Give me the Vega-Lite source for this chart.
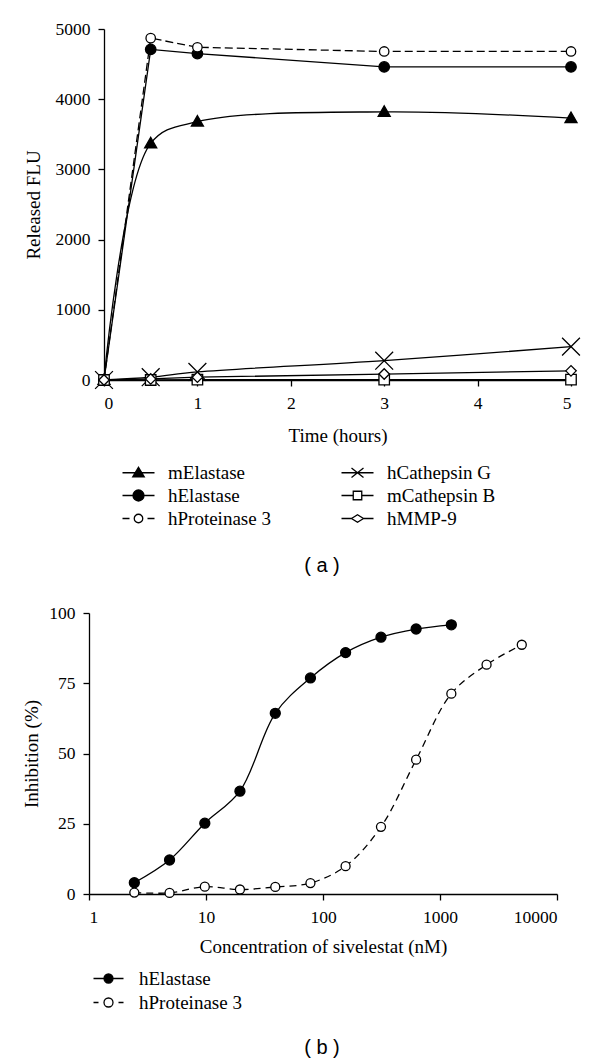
{
  "$schema": "https://vega.github.io/schema/vega-lite/v6.json",
  "background": "white",
  "padding": {"left": 22, "top": 20, "right": 0, "bottom": 0},
  "config": {
    "view": {"stroke": null},
    "font": "Liberation Serif",
    "axis": {"domainColor": "black", "domainWidth": 1.3, "tickColor": "black", "tickWidth": 1.3, "tickSize": 6, "labelFont": "Liberation Serif", "labelFontSize": 17.5, "labelColor": "black", "titleFont": "Liberation Serif", "titleFontSize": 19, "titleFontWeight": "normal", "titleColor": "black", "grid": false, "labelPadding": 8},
    "legend": {"labelFont": "Liberation Serif", "labelFontSize": 19, "labelColor": "black", "padding": 0},
    "title": {"font": "Liberation Sans", "fontSize": 20, "fontWeight": "normal", "color": "black"}
  },
  "datasets": {
    "top": [
      {"enzyme": "mElastase", "t": 0, "flu": 0},
      {"enzyme": "mElastase", "t": 0.5, "flu": 3370},
      {"enzyme": "mElastase", "t": 1, "flu": 3680},
      {"enzyme": "mElastase", "t": 3, "flu": 3820},
      {"enzyme": "mElastase", "t": 5, "flu": 3730},
      {"enzyme": "hElastase", "t": 0, "flu": 0},
      {"enzyme": "hElastase", "t": 0.5, "flu": 4710},
      {"enzyme": "hElastase", "t": 1, "flu": 4650},
      {"enzyme": "hElastase", "t": 3, "flu": 4460},
      {"enzyme": "hElastase", "t": 5, "flu": 4460},
      {"enzyme": "hProteinase 3", "t": 0, "flu": 0},
      {"enzyme": "hProteinase 3", "t": 0.5, "flu": 4870},
      {"enzyme": "hProteinase 3", "t": 1, "flu": 4740},
      {"enzyme": "hProteinase 3", "t": 3, "flu": 4680},
      {"enzyme": "hProteinase 3", "t": 5, "flu": 4680},
      {"enzyme": "hCathepsin G", "t": 0, "flu": 0},
      {"enzyme": "hCathepsin G", "t": 0.5, "flu": 40},
      {"enzyme": "hCathepsin G", "t": 1, "flu": 115},
      {"enzyme": "hCathepsin G", "t": 3, "flu": 275},
      {"enzyme": "hCathepsin G", "t": 5, "flu": 475},
      {"enzyme": "mCathepsin B", "t": 0, "flu": 0},
      {"enzyme": "mCathepsin B", "t": 0.5, "flu": 0},
      {"enzyme": "mCathepsin B", "t": 1, "flu": 5},
      {"enzyme": "mCathepsin B", "t": 3, "flu": 5},
      {"enzyme": "mCathepsin B", "t": 5, "flu": 5},
      {"enzyme": "hMMP-9", "t": 0, "flu": 0},
      {"enzyme": "hMMP-9", "t": 0.5, "flu": 15},
      {"enzyme": "hMMP-9", "t": 1, "flu": 40},
      {"enzyme": "hMMP-9", "t": 3, "flu": 85},
      {"enzyme": "hMMP-9", "t": 5, "flu": 130}
    ],
    "bottom": [
      {"series": "hElastase", "conc": 2.44, "inh": 4.0},
      {"series": "hElastase", "conc": 4.88, "inh": 12.1},
      {"series": "hElastase", "conc": 9.77, "inh": 25.2},
      {"series": "hElastase", "conc": 19.5, "inh": 36.6},
      {"series": "hElastase", "conc": 39.1, "inh": 64.3},
      {"series": "hElastase", "conc": 78.1, "inh": 76.9},
      {"series": "hElastase", "conc": 156, "inh": 85.9},
      {"series": "hElastase", "conc": 313, "inh": 91.4},
      {"series": "hElastase", "conc": 625, "inh": 94.3},
      {"series": "hElastase", "conc": 1250, "inh": 95.8},
      {"series": "hProteinase 3", "conc": 2.44, "inh": 0.5},
      {"series": "hProteinase 3", "conc": 4.88, "inh": 0.4},
      {"series": "hProteinase 3", "conc": 9.77, "inh": 2.6},
      {"series": "hProteinase 3", "conc": 19.5, "inh": 1.6},
      {"series": "hProteinase 3", "conc": 39.1, "inh": 2.5},
      {"series": "hProteinase 3", "conc": 78.1, "inh": 3.9},
      {"series": "hProteinase 3", "conc": 156, "inh": 9.9},
      {"series": "hProteinase 3", "conc": 313, "inh": 23.9},
      {"series": "hProteinase 3", "conc": 625, "inh": 47.8},
      {"series": "hProteinase 3", "conc": 1250, "inh": 71.3},
      {"series": "hProteinase 3", "conc": 2500, "inh": 81.6},
      {"series": "hProteinase 3", "conc": 5000, "inh": 88.7}
    ]
  },
  "spacing": 28,
  "resolve": {
    "scale": {"shape": "independent", "fill": "independent", "stroke": "independent"},
    "legend": {"shape": "independent", "fill": "independent", "stroke": "independent"}
  },
  "vconcat": [
    {
      "width": 482,
      "height": 351,
      "title": {"text": "( a )", "orient": "bottom", "anchor": "middle", "dx": -8, "offset": 27},
      "data": {"name": "top"},
      "encoding": {
        "x": {"field": "t", "type": "quantitative", "scale": {"domain": [0, 5], "nice": false, "range": [15, 482]}, "axis": {"values": [0, 1, 2, 3, 4, 5], "title": "Time (hours)", "titlePadding": 15}},
        "y": {"field": "flu", "type": "quantitative", "scale": {"domain": [0, 5000], "nice": false}, "axis": {"values": [0, 1000, 2000, 3000, 4000, 5000], "format": "d", "title": "Released FLU", "titlePadding": 12, "offset": -15}}
      },
      "resolve": {
        "scale": {"shape": "independent", "fill": "independent", "stroke": "independent"},
        "legend": {"shape": "independent", "fill": "independent", "stroke": "independent"}
      },
      "layer": [
        {
          "mark": {"type": "point", "filled": true, "opacity": 0, "size": 100},
          "encoding": {
            "shape": {"field": "enzyme", "type": "nominal",
              "scale": {"domain": ["mElastase", "hElastase", "hProteinase 3", "hCathepsin G", "mCathepsin B", "hMMP-9"],
                        "range": ["M-3.2,0H3.2M0,-1.1L1.15,0.8L-1.15,0.8Z", "M-3.2,0H3.2M1.1,0A1.1,1.1,0,1,1,-1.1,0A1.1,1.1,0,1,1,1.1,0Z", "M-3.2,0H-1.8M1.8,0H3.2M0.85,0A0.85,0.85,0,1,1,-0.85,0A0.85,0.85,0,1,1,0.85,0Z", "M-3.2,0H3.2M-1.2,-0.95L1.2,0.95M-1.2,0.95L1.2,-0.95", "M-3.2,0H-0.85M0.85,0H3.2M-0.85,-0.85H0.85V0.85H-0.85Z", "M-3.2,0H-1.2M1.2,0H3.2M-1.2,0L0,-0.75L1.2,0L0,0.75Z"]},
              "legend": {"title": null, "orient": "none", "legendX": 40, "legendY": 434, "columns": 2, "columnPadding": 67, "rowPadding": 3, "labelOffset": 20, "symbolSize": 100, "symbolOpacity": 1, "symbolStrokeWidth": 1.3}},
            "fill": {"field": "enzyme", "type": "nominal",
              "scale": {"domain": ["mElastase", "hElastase", "hProteinase 3", "hCathepsin G", "mCathepsin B", "hMMP-9"],
                        "range": ["black", "black", "white", "white", "white", "white"]},
              "legend": {"title": null, "orient": "none", "legendX": 40, "legendY": 434, "columns": 2, "columnPadding": 67, "rowPadding": 3, "labelOffset": 20, "symbolSize": 100, "symbolOpacity": 1, "symbolStrokeWidth": 1.3}},
            "stroke": {"field": "enzyme", "type": "nominal",
              "scale": {"domain": ["mElastase", "hElastase", "hProteinase 3", "hCathepsin G", "mCathepsin B", "hMMP-9"],
                        "range": ["black", "black", "black", "black", "black", "black"]},
              "legend": {"title": null, "orient": "none", "legendX": 40, "legendY": 434, "columns": 2, "columnPadding": 67, "rowPadding": 3, "labelOffset": 20, "symbolSize": 100, "symbolOpacity": 1, "symbolStrokeWidth": 1.3}}
          }
        },
        {
          "transform": [{"filter": "datum.enzyme === 'mElastase' || datum.enzyme === 'hCathepsin G'"}],
          "mark": {"type": "line", "interpolate": "catmull-rom", "color": "black", "strokeWidth": 1.3},
          "encoding": {"detail": {"field": "enzyme"}}
        },
        {
          "transform": [{"filter": "datum.enzyme === 'hElastase' || datum.enzyme === 'mCathepsin B' || datum.enzyme === 'hMMP-9'"}],
          "mark": {"type": "line", "color": "black", "strokeWidth": 1.3},
          "encoding": {"detail": {"field": "enzyme"}}
        },
        {
          "transform": [{"filter": "datum.enzyme === 'hProteinase 3'"}],
          "mark": {"type": "line", "color": "black", "strokeWidth": 1.3, "strokeDash": [8, 4]},
          "encoding": {"detail": {"field": "enzyme"}}
        },
        {
          "mark": {"type": "point", "filled": true, "stroke": "black", "strokeWidth": 1.3, "opacity": 1, "size": 110},
          "encoding": {
            "fill": {"condition": {"test": "datum.enzyme === 'mElastase' || datum.enzyme === 'hElastase'", "value": "black"}, "value": "white"},
            "shape": {"field": "enzyme", "type": "nominal",
              "scale": {"domain": ["mElastase", "hElastase", "hProteinase 3", "hCathepsin G", "mCathepsin B", "hMMP-9"],
                        "range": ["M0,-1.15L1.15,0.85L-1.15,0.85Z", "circle", "M0.9,0A0.9,0.9,0,1,1,-0.9,0A0.9,0.9,0,1,1,0.9,0Z", "M-1.7,-1.7L1.7,1.7M-1.7,1.7L1.7,-1.7", "square", "diamond"]},
              "legend": null}
          }
        }
      ]
    },
    {
      "width": 468,
      "height": 281,
      "title": {"text": "( b )", "orient": "bottom", "anchor": "middle", "dx": -1, "offset": 25},
      "data": {"name": "bottom"},
      "encoding": {
        "x": {"field": "conc", "type": "quantitative", "scale": {"type": "log", "domain": [1, 10000], "nice": false}, "axis": {"values": [1, 10, 100, 1000, 10000], "format": "d", "title": "Concentration of sivelestat (nM)", "titlePadding": 12}},
        "y": {"field": "inh", "type": "quantitative", "scale": {"domain": [0, 100], "nice": false}, "axis": {"values": [0, 25, 50, 75, 100], "title": "Inhibition (%)", "titlePadding": 7}}
      },
      "resolve": {
        "scale": {"shape": "independent", "fill": "independent", "stroke": "independent"},
        "legend": {"shape": "independent", "fill": "independent", "stroke": "independent"}
      },
      "layer": [
        {
          "mark": {"type": "point", "filled": true, "opacity": 0, "size": 100},
          "encoding": {
            "shape": {"field": "series", "type": "nominal",
              "scale": {"domain": ["hElastase", "hProteinase 3"], "range": ["M-3,0H3M0.9,0A0.9,0.9,0,1,1,-0.9,0A0.9,0.9,0,1,1,0.9,0Z", "M-3,0H-2M2,0H3M0.9,0A0.9,0.9,0,1,1,-0.9,0A0.9,0.9,0,1,1,0.9,0Z"]},
              "legend": {"title": null, "orient": "none", "legendX": 10, "legendY": 356, "rowPadding": 4, "labelOffset": 21, "symbolSize": 100, "symbolOpacity": 1, "symbolStrokeWidth": 1.3}},
            "fill": {"field": "series", "type": "nominal",
              "scale": {"domain": ["hElastase", "hProteinase 3"], "range": ["black", "white"]},
              "legend": {"title": null, "orient": "none", "legendX": 10, "legendY": 356, "rowPadding": 4, "labelOffset": 21, "symbolSize": 100, "symbolOpacity": 1, "symbolStrokeWidth": 1.3}},
            "stroke": {"field": "series", "type": "nominal",
              "scale": {"domain": ["hElastase", "hProteinase 3"], "range": ["black", "black"]},
              "legend": {"title": null, "orient": "none", "legendX": 10, "legendY": 356, "rowPadding": 4, "labelOffset": 21, "symbolSize": 100, "symbolOpacity": 1, "symbolStrokeWidth": 1.3}}
          }
        },
        {
          "transform": [{"filter": "datum.series === 'hElastase'"}],
          "mark": {"type": "line", "interpolate": "catmull-rom", "color": "black", "strokeWidth": 1.3},
          "encoding": {"detail": {"field": "series"}}
        },
        {
          "transform": [{"filter": "datum.series === 'hProteinase 3'"}],
          "mark": {"type": "line", "interpolate": "catmull-rom", "color": "black", "strokeWidth": 1.3, "strokeDash": [7, 5]},
          "encoding": {"detail": {"field": "series"}}
        },
        {
          "mark": {"type": "point", "filled": true, "stroke": "black", "strokeWidth": 1.3, "opacity": 1, "size": 100},
          "encoding": {
            "fill": {"condition": {"test": "datum.series === 'hElastase'", "value": "black"}, "value": "white"},
            "shape": {"field": "series", "type": "nominal",
              "scale": {"domain": ["hElastase", "hProteinase 3"], "range": ["circle", "M0.9,0A0.9,0.9,0,1,1,-0.9,0A0.9,0.9,0,1,1,0.9,0Z"]},
              "legend": null}
          }
        }
      ]
    }
  ]
}
